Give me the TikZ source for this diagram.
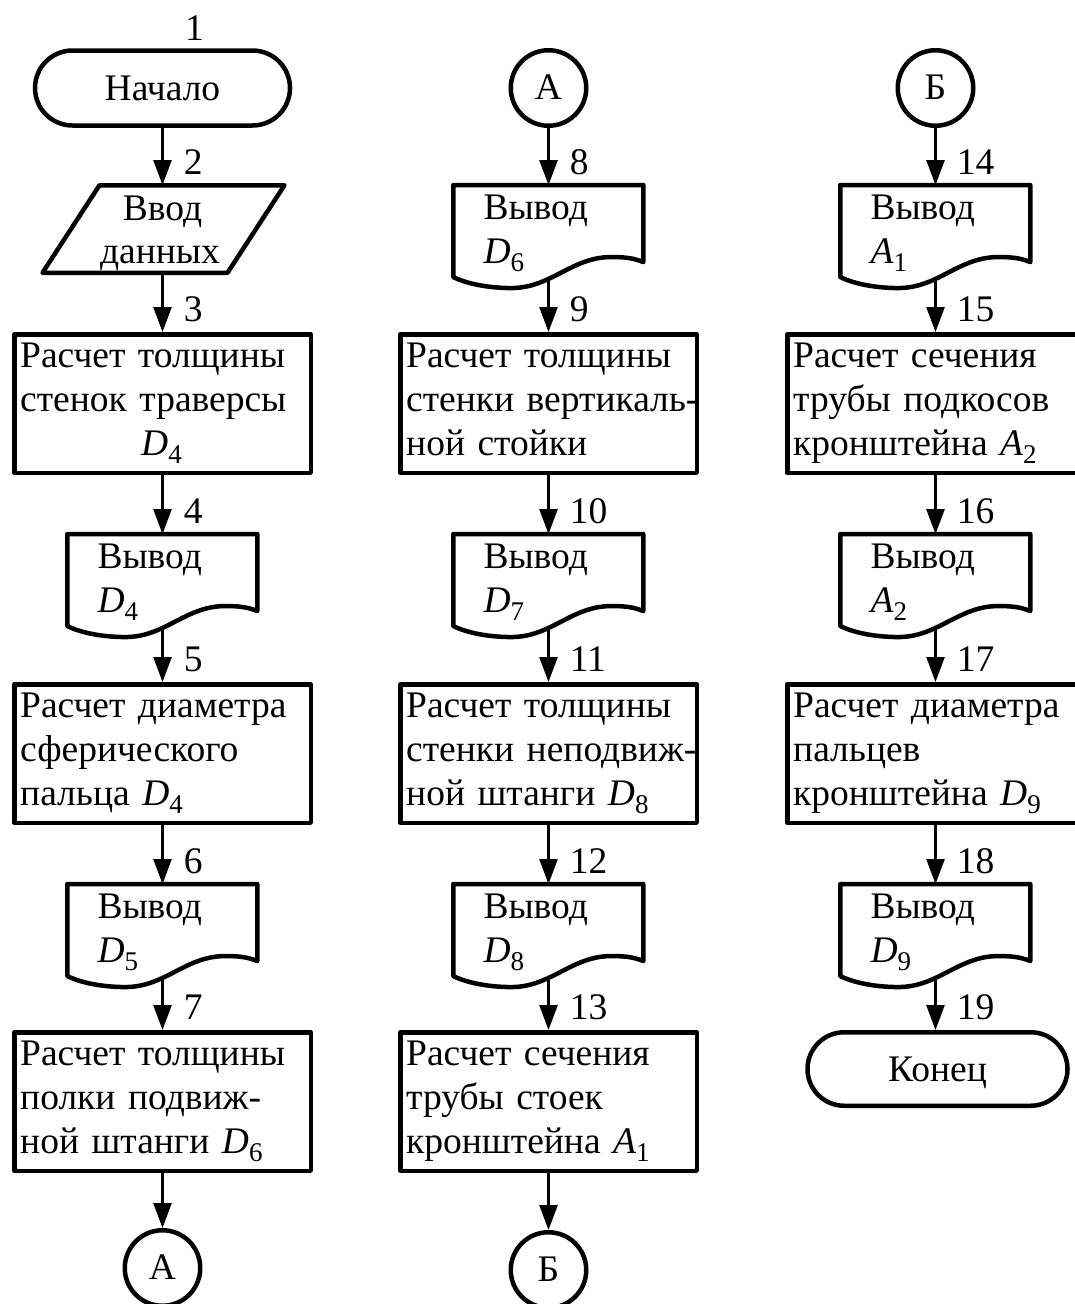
\documentclass[tikz,border=0pt]{standalone}
\usepackage{fontspec}
\setmainfont{Liberation Serif}
\usetikzlibrary{arrows.meta,calc}
\newcommand\vsub[2]{\textit{#1}\raisebox{-8.5pt}{\fontsize{27}{27}\selectfont #2}}
\tikzset{
  every node/.style={font=\fontsize{37.5}{44}\selectfont},
  shapeline/.style={line width=4.5pt, line join=round},
  blk/.style={draw, shapeline, rectangle, minimum width=296.5pt, minimum height=138.5pt, inner sep=0pt},
  docb/.style={rectangle, minimum width=190pt, minimum height=94pt, inner sep=0pt},
  term/.style={draw, shapeline, rounded corners=37.5pt, minimum width=255pt, minimum height=75pt, inner sep=0pt, text height=25pt, text depth=0pt},
  conn/.style={draw, shapeline, circle, minimum size=75.5pt, inner sep=0pt, text height=22pt, text depth=0pt},
  arr/.style={line width=2.5pt, -{Triangle[length=25pt,width=18pt]}},
  lbl/.style={at end, anchor=base west, xshift=20pt, yshift=11pt, inner sep=0pt},
  btxt/.style={anchor=north west, inner sep=0pt, text width=330pt, align=left},
  dtxt/.style={anchor=base west, inner sep=0pt},
}
\newcommand\blkbox[4]{%
  \node[blk] (#1) at (#2,#3+71.5) {};
  \node[btxt] (#1t) at ([shift={(8,9)}]#1.north west) {\rule{0pt}{26pt}#4};
}
\newcommand\docbox[5]{%
  \node[docb] (#1) at (#2,#3+49.25) {};
  \begin{scope}[shift={(#1.north west)}]
    \draw[shapeline] (0,0) -- (190,0) -- (190,77) .. controls (180,73) and (172,72) .. (158,72)
      .. controls (118,72) and (98,103) .. (58,103) .. controls (36,103) and (14,99) .. (0,92) -- cycle;
  \end{scope}
  \node[dtxt] (#1a) at ([shift={(30,34)}]#1.north west) {#4};
  \node[dtxt] (#1b) at ([shift={(30,78)}]#1.north west) {#5};
}
\begin{document}
\begin{tikzpicture}[x=1pt,y=-1pt]
\useasboundingbox (0,0) rectangle (1075,1304);
\clip (0,0) rectangle (1075,1304);
\fill[white] (0,0) rectangle (1075,1304);

% ---------- column 1 ----------
\node[term] (start) at (162.5,88) {Начало};
\node[anchor=base west, inner sep=0pt] (n1) at (185,40) {1};
\node[docb, minimum height=87.5pt] (in) at (162.5,229) {};
\draw[shapeline] (99.5,185.25) -- (284.5,185.25) -- (227.5,272.75) -- (42.5,272.75) -- cycle;
\node[anchor=base, inner sep=0pt] (inA) at (162.5,220) {Ввод};
\node[anchor=base, inner sep=0pt] (inB) at (160,263) {данных};
\blkbox{b3}{162.5}{332}{Расчет толщины\\стенок траверсы\\\hspace*{121pt}\vsub{D}{4}}
\docbox{d4}{162.5}{532}{Вывод}{\vsub{D}{4}}
\blkbox{b5}{162.5}{682}{Расчет диаметра\\сферического\\пальца \vsub{D}{4}}
\docbox{d6}{162.5}{882}{Вывод}{\vsub{D}{5}}
\blkbox{b7}{162.5}{1030}{Расчет толщины\\полки подвиж-\\ной штанги \vsub{D}{6}}
\node[conn] (cA1) at (162.5,1268) {А};

\draw[arr] (start.south) -- (in.north) node[lbl] {2};
\draw[arr] (in.south) -- (b3.north) node[lbl] {3};
\draw[arr] (b3.south) -- (d4.north) node[lbl] {4};
\draw[arr] (d4.south) -- (b5.north) node[lbl] {5};
\draw[arr] (b5.south) -- (d6.north) node[lbl] {6};
\draw[arr] (d6.south) -- (b7.north) node[lbl] {7};
\draw[arr] (b7.south) -- (cA1.north);

% ---------- column 2 ----------
\node[conn] (cA2) at (548.5,88) {А};
\docbox{d8}{548.5}{183}{Вывод}{\vsub{D}{6}}
\blkbox{b9}{548.5}{332}{Расчет толщины\\стенки вертикаль-\\ной стойки}
\docbox{d10}{548.5}{532}{Вывод}{\vsub{D}{7}}
\blkbox{b11}{548.5}{682}{Расчет толщины\\стенки неподвиж-\\ной штанги \vsub{D}{8}}
\docbox{d12}{548.5}{882}{Вывод}{\vsub{D}{8}}
\blkbox{b13}{548.5}{1030}{Расчет сечения\\трубы стоек\\кронштейна \vsub{A}{1}}
\node[conn] (cB1) at (548.5,1270) {Б};

\draw[arr] (cA2.south) -- (d8.north) node[lbl] {8};
\draw[arr] (d8.south) -- (b9.north) node[lbl] {9};
\draw[arr] (b9.south) -- (d10.north) node[lbl] {10};
\draw[arr] (d10.south) -- (b11.north) node[lbl] {11};
\draw[arr] (b11.south) -- (d12.north) node[lbl] {12};
\draw[arr] (d12.south) -- (b13.north) node[lbl] {13};
\draw[arr] (b13.south) -- (cB1.north);

% ---------- column 3 ----------
\node[conn] (cB2) at (935.5,88) {Б};
\docbox{d14}{935.5}{183}{Вывод}{\vsub{A}{1}}
\blkbox{b15}{935.5}{332}{Расчет сечения\\трубы подкосов\\кронштейна \vsub{A}{2}}
\docbox{d16}{935.5}{532}{Вывод}{\vsub{A}{2}}
\blkbox{b17}{935.5}{682}{Расчет диаметра\\пальцев\\кронштейна \vsub{D}{9}}
\docbox{d18}{935.5}{882}{Вывод}{\vsub{D}{9}}
\node[term, minimum width=260pt, minimum height=73.5pt, rounded corners=36.75pt] (fin) at (937.5,1069) {Конец};

\draw[arr] (cB2.south) -- (d14.north) node[lbl] {14};
\draw[arr] (d14.south) -- (b15.north) node[lbl] {15};
\draw[arr] (b15.south) -- (d16.north) node[lbl] {16};
\draw[arr] (d16.south) -- (b17.north) node[lbl] {17};
\draw[arr] (b17.south) -- (d18.north) node[lbl] {18};
\draw[arr] (d18.south) -- (d18.south |- fin.north) node[lbl] {19};
\end{tikzpicture}
\end{document}
